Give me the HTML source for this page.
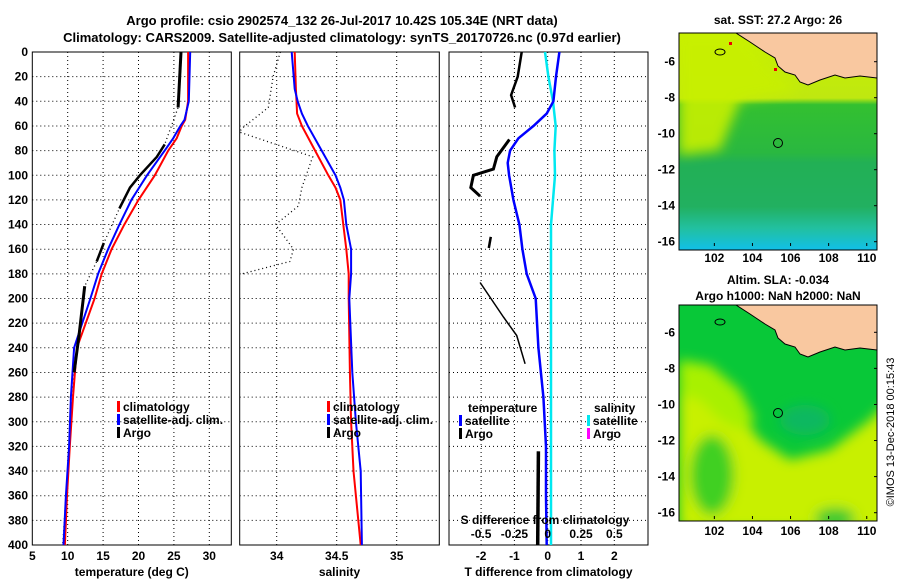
<!DOCTYPE html>
<html><head><meta charset="utf-8"><style>
html,body{margin:0;padding:0;background:#fff;}
svg{display:block;font-family:"Liberation Sans",Arial,sans-serif;font-weight:bold;}
</style></head><body>
<svg id="fig" width="900" height="580" viewBox="0 0 900 580" xmlns="http://www.w3.org/2000/svg">
<defs>
<linearGradient id="sstGrad" x1="0" y1="0" x2="0" y2="1">
<stop offset="0" stop-color="#c8f000"/><stop offset="0.3" stop-color="#bfe810"/>
<stop offset="0.33" stop-color="#33c030"/><stop offset="0.55" stop-color="#2ab840"/>
<stop offset="0.6" stop-color="#22b055"/><stop offset="0.8" stop-color="#22b060"/>
<stop offset="0.9" stop-color="#22c0a0"/><stop offset="1" stop-color="#11c0e8"/>
</linearGradient>
<filter id="blur" x="-20%" y="-20%" width="140%" height="140%"><feGaussianBlur stdDeviation="6"/></filter>
<clipPath id="clipTop"><rect x="679" y="33" width="198" height="217"/></clipPath>
<clipPath id="clipBot"><rect x="679" y="305" width="198" height="216"/></clipPath>
</defs>
<text x="342" y="25" text-anchor="middle" font-size="13">Argo profile: csio 2902574_132 26-Jul-2017 10.42S 105.34E (NRT data)</text>
<text x="342" y="42" text-anchor="middle" font-size="13">Climatology: CARS2009. Satellite-adjusted climatology: synTS_20170726.nc (0.97d earlier)</text>
<g id="p1"></g>
<g id="p2"></g>
<g id="p3"></g>

<!-- top map -->
<g>
<text x="778" y="24" text-anchor="middle" font-size="12">sat. SST: 27.2 Argo: 26</text>
<g clip-path="url(#clipTop)">
<rect x="679" y="33" width="198" height="217" fill="url(#sstGrad)"/>
<polygon points="679,33 740,33 770,70 800,90 740,100 720,150 679,155" fill="#c8f000" opacity="0.9" filter="url(#blur)"/>
<polygon points="736,33 877,33 877,78 860,76 845,78 835,75 820,80 808,85 800,82 795,75 785,72 778,66 775,58 765,52 750,42" fill="#f9c8a0" stroke="#000" stroke-width="1"/>
<ellipse cx="720" cy="52" rx="5" ry="3" fill="none" stroke="#000"/>
<circle cx="778" cy="143" r="4.5" fill="none" stroke="#000"/>
<rect x="729" y="42" width="3" height="3" fill="#e00"/>
<rect x="774" y="68" width="3" height="3" fill="#e00"/>
</g>
<rect x="679" y="33" width="198" height="217" fill="none" stroke="#000"/>
</g>
<!-- bottom map -->
<g>
<text x="778" y="284" text-anchor="middle" font-size="12">Altim. SLA: -0.034</text>
<text x="778" y="300" text-anchor="middle" font-size="12">Argo h1000: NaN h2000: NaN</text>
<g clip-path="url(#clipBot)">
<rect x="679" y="305" width="198" height="216" fill="#08c838"/>
<g filter="url(#blur)">
<polygon points="679,370 700,375 730,400 760,440 790,460 830,450 870,420 890,400 890,530 679,530" fill="#c8f000"/>
<polygon points="679,360 710,365 740,390 755,420 740,430 720,420 700,400 679,395" fill="#a8f000"/>
<ellipse cx="712" cy="475" rx="22" ry="40" fill="#40d020"/>
<ellipse cx="835" cy="518" rx="20" ry="10" fill="#30c830"/>
<ellipse cx="805" cy="420" rx="25" ry="15" fill="#10b860"/>
</g>
<polygon points="736,305 877,305 877,350 860,348 845,350 835,347 820,352 808,357 800,354 795,347 785,344 778,338 775,330 765,324 750,314" fill="#f9c8a0" stroke="#000" stroke-width="1"/>
<ellipse cx="720" cy="322" rx="5" ry="3" fill="none" stroke="#000"/>
<circle cx="778" cy="413" r="4.5" fill="none" stroke="#000"/>
</g>
<rect x="679" y="305" width="198" height="216" fill="none" stroke="#000"/>
</g>
<g id="maps-ticks"></g>
<text transform="translate(894,432) rotate(-90)" text-anchor="middle" font-size="11" font-weight="normal">©IMOS 13-Dec-2018 00:15:43</text>
</svg>
<script>
// ---- data ----
const depthTicks = [0,20,40,60,80,100,120,140,160,180,200,220,240,260,280,300,320,340,360,380,400];
const tempTicks = [5,10,15,20,25,30];
const salTicks = [34,34.5,35];
const salTickLabels = ["34","34.5","35"];
const tdiffTicks = [-2,-1,0,1,2];
const sdiffTicks = [-0.5,-0.25,0,0.25,0.5];
const sdiffTickLabels = ["-0.5","-0.25","0","0.25","0.5"];

const climDepth = [0,40,55,60,70,80,100,120,140,160,180,200,240,280,320,360,400];
const climTemp = [27.0,27.0,26.6,26.1,25.4,24.2,22.3,20.0,18.0,16.2,14.8,13.8,11.3,10.75,10.3,9.9,9.6];
const satTemp = [27.3,27.1,26.5,25.9,24.9,23.7,21.2,19.0,17.3,15.7,14.3,13.2,10.9,10.45,10.2,9.75,9.4];

const argoTDepth = [0,45,75,85,100,110,127,155,170,190,200,230,260,400];
const argoTemp = [26.0,25.6,23.7,22.6,20.2,18.8,17.3,15.1,14.1,12.4,12.2,11.6,10.9,9.3];
const argoTSeg = [0,0,1,1,1,1,1,2,2,3,3,3,3,-1];

const salDepth = [0,30,40,50,60,80,100,110,120,140,160,180,200,260,300,340,400];
const climSal = [34.15,34.16,34.165,34.17,34.21,34.32,34.43,34.49,34.53,34.555,34.58,34.6,34.6,34.61,34.62,34.64,34.70];
const satSal = [34.125,34.15,34.175,34.21,34.26,34.375,34.49,34.53,34.56,34.58,34.62,34.62,34.605,34.63,34.66,34.70,34.71];

const argoSDepth = [0,20,45,62,65,85,110,125,140,160,170,180];
const argoSal = [34.03,33.97,33.93,33.71,33.69,34.3,34.21,34.18,33.99,34.14,34.11,33.71];

const satTdiffDepth = [0,20,40,50,60,70,80,90,100,120,140,160,180,200,240,280,320,360,400];
const satTdiff = [0.35,0.25,0.17,-0.03,-0.43,-0.88,-1.13,-1.2,-1.16,-1.03,-0.85,-0.76,-0.63,-0.36,-0.28,-0.13,-0.05,-0.05,-0.03];
const satSdiffDepth = [0,20,40,60,80,100,120,140,180,240,300,400];
const satSdiff = [-0.02,0.005,0.04,0.06,0.05,0.055,0.04,0.025,0.025,0.025,0.025,0.025];
const argoTdiffDepth = [0,20,35,45,71,85,95,100,110,117,150,159,187,215,230,253,324,400];
const argoTdiff = [-0.78,-0.9,-1.1,-0.98,-1.15,-1.53,-1.63,-2.23,-2.31,-2.03,-1.71,-1.77,-2.03,-1.33,-0.93,-0.68,-0.28,-0.3];
const argoTdiffSeg = [0,0,0,0,1,1,1,1,1,1,2,2,3,3,3,3,4,4];

const lonTicks = [102,104,106,108,110];
const latTicks = [-6,-8,-10,-12,-14,-16];

// ---- scales ----
const NS = "http://www.w3.org/2000/svg";
const Y0 = 52, Y1 = 545;
const yD = d => Y0 + d * (Y1 - Y0) / 400;
const xT = t => 32.3 + (t - 5) * 7.08;
const xS = s => 276.7 + (s - 34) * 120;
const xDT = t => 547.7 + t * 33.3;
const xDS = s => xDT(s * 4);

function mk(parent, tag, attrs, text) {
  const e = document.createElementNS(NS, tag);
  for (const k in attrs) e.setAttribute(k, attrs[k]);
  if (text !== undefined) e.textContent = text;
  parent.appendChild(e);
  return e;
}
function pts(xs, ds, fx) { return xs.map((v, i) => fx(v).toFixed(1) + "," + yD(ds[i]).toFixed(1)).join(" "); }

function panel(g, x0, x1, xticks, xlabels, fx, xtitle, showY) {
  for (const d of depthTicks) {
    if (d > 0 && d < 400) {
      const l = mk(g, "line", {x1: x0, x2: x1, y1: yD(d), y2: yD(d), stroke: "#000", "stroke-width": 1, "stroke-dasharray": "1,3"});
      
      
    }
    if (showY) {
      const t = mk(g, "text", {x: 28, y: yD(d) + 4, "text-anchor": "end", "font-size": 12}, String(d));
      
      
    }
  }
  xticks.forEach((v, i) => {
    const x = fx(v);
    if (x > x0 + 1 && x < x1 - 1) {
      const l = mk(g, "line", {x1: x, x2: x, y1: Y0, y2: Y1, stroke: "#000", "stroke-width": 1, "stroke-dasharray": "1,3"});
      
      
    }
    const t = mk(g, "text", {x: x, y: 560, "text-anchor": "middle", "font-size": 12}, xlabels[i]);
    
    
  });
  const r = mk(g, "rect", {x: x0, y: Y0, width: x1 - x0, height: Y1 - Y0, fill: "none", stroke: "#000"});
  
  
  const tt = mk(g, "text", {x: (x0 + x1) / 2, y: 576, "text-anchor": "middle", "font-size": 12}, xtitle);
  
  
}
function line(g, xs, ds, fx, color, w, dash, name) {
  const a = {points: pts(xs, ds, fx), fill: "none", stroke: color, "stroke-width": w};
  if (dash) a["stroke-dasharray"] = dash;
  const p = mk(g, "polyline", a);
  
  
}
function segLines(g, xs, ds, seg, fx, color, widths, name) {
  let cur = [], curD = [], id = null;
  const flush = () => { if (cur.length > 1) line(g, cur, curD, fx, color, widths[id] || 2.5, null, name); };
  for (let i = 0; i < xs.length; i++) {
    if (seg[i] !== id) { flush(); cur = []; curD = []; id = seg[i]; }
    if (seg[i] >= 0) { cur.push(xs[i]); curD.push(ds[i]); }
  }
  flush();
}
function legend(g, x, y, items) {
  items.forEach((it, i) => {
    const yy = y + i * 13;
    const m = mk(g, "rect", {x: x, y: yy - 10, width: 3, height: 11, fill: it[1]});
    
    
    const t = mk(g, "text", {x: x + 6, y: yy, "font-size": 12}, it[0]);
    
    
  });
}

// Panel 1
const p1 = document.getElementById("p1");
panel(p1, 32.3, 231.3, tempTicks, tempTicks.map(String), xT, "temperature (deg C)", true);
line(p1, argoTemp, argoTDepth, xT, "#000", 1.3, "1,3", "argo-temp-dotted");
line(p1, climTemp, climDepth, xT, "#f00", 2, null, "climatology-temp-line");
line(p1, satTemp, climDepth, xT, "#00f", 2, null, "satellite-temp-line");
segLines(p1, argoTemp, argoTDepth, argoTSeg, xT, "#000", {0: 3, 1: 2.5, 2: 2.5, 3: 3}, "argo-temp-line");
legend(p1, 117, 411, [["climatology", "#f00"], ["satellite-adj. clim.", "#00f"], ["Argo", "#000"]]);

// Panel 2
const p2 = document.getElementById("p2");
panel(p2, 239.7, 439.3, salTicks, salTickLabels, xS, "salinity", false);
line(p2, argoSal, argoSDepth, xS, "#000", 1.3, "1,3", "argo-salinity-dotted");
line(p2, climSal, salDepth, xS, "#f00", 2, null, "climatology-salinity-line");
line(p2, satSal, salDepth, xS, "#00f", 2, null, "satellite-salinity-line");
legend(p2, 327, 411, [["climatology", "#f00"], ["satellite-adj. clim.", "#00f"], ["Argo", "#000"]]);

// Panel 3
const p3 = document.getElementById("p3");
panel(p3, 449, 648, tdiffTicks, tdiffTicks.map(String), xDT, "T difference from climatology", false);
line(p3, satSdiff, satSdiffDepth, xDS, "#00e8f0", 2.5, null, "satellite-s-diff-line");
line(p3, satTdiff, satTdiffDepth, xDT, "#00f", 2.5, null, "satellite-t-diff-line");
segLines(p3, argoTdiff, argoTdiffDepth, argoTdiffSeg, xDT, "#000", {0: 2.5, 1: 3, 2: 2.5, 3: 1.5, 4: 3.5}, "argo-t-diff-line");
{
  const t = mk(p3, "text", {x: 468, y: 412, "font-size": 12, fill: "#000"}, "temperature");
  
  
  const s = mk(p3, "text", {x: 594, y: 412, "font-size": 12, fill: "#000"}, "salinity");
  
  
}
legend(p3, 459, 425, [["satellite", "#00f"], ["Argo", "#000"]]);
legend(p3, 587, 425, [["satellite", "#00e8f0"], ["Argo", "#f0f"]]);
{
  const t = mk(p3, "text", {x: 545, y: 524, "text-anchor": "middle", "font-size": 12}, "S difference  from climatology");
  
  
  sdiffTicks.forEach((v, i) => {
    const l = mk(p3, "text", {x: xDS(v), y: 538, "text-anchor": "middle", "font-size": 12}, sdiffTickLabels[i]);
    
    
  });
}

// Map ticks
const mg = document.getElementById("maps-ticks");
const xLon = lon => 679.3 + (lon - 100.16) * 19.05;
[[33.3, 61.7, 18.0, 262], [305, 332.3, 18.04, 535]].forEach(m => {
  const yLat = lat => m[1] + (-6 - lat) * m[2];
  lonTicks.forEach(v => {
    const t = mk(mg, "text", {x: xLon(v), y: m[3], "text-anchor": "middle", "font-size": 12}, String(v));
    
    
    const k = mk(mg, "line", {x1: xLon(v), x2: xLon(v), y1: m[3] - 16, y2: m[3] - 19, stroke: "#000"});
    
    
  });
  latTicks.forEach(v => {
    const t = mk(mg, "text", {x: 675, y: yLat(v) + 4, "text-anchor": "end", "font-size": 12}, String(v));
    
    
    const k = mk(mg, "line", {x1: 874, x2: 877, y1: yLat(v), y2: yLat(v), stroke: "#000"});
    
    
  });
});
</script>
</body></html>
